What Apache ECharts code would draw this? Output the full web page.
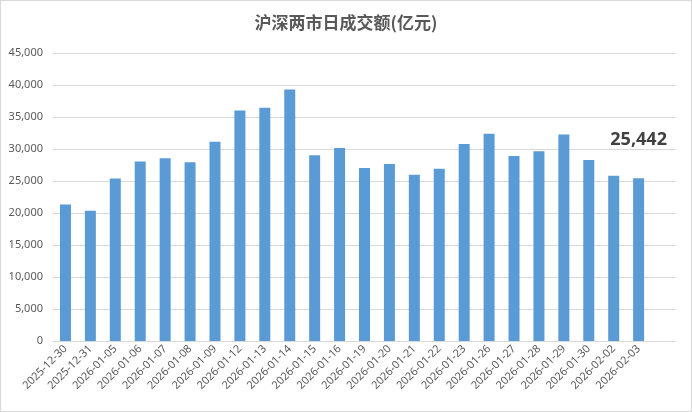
<!DOCTYPE html>
<html>
<head>
<meta charset="utf-8">
<script src="https://cdn.jsdelivr.net/npm/echarts@6/dist/echarts.min.js"></script>
<style>
html, body { margin: 0; padding: 0; background: #fff; }
#main { width: 692px; height: 412px; box-sizing: border-box; border: 1px solid #d9d9d9; }
</style>
</head>
<body>
<div id="main"></div>
<script>
var dates = ['2025-12-30', '2025-12-31', '2026-01-05', '2026-01-06', '2026-01-07', '2026-01-08',
    '2026-01-09', '2026-01-12', '2026-01-13', '2026-01-14', '2026-01-15', '2026-01-16',
    '2026-01-19', '2026-01-20', '2026-01-21', '2026-01-22', '2026-01-23', '2026-01-26',
    '2026-01-27', '2026-01-28', '2026-01-29', '2026-01-30', '2026-02-02', '2026-02-03'];
var turnover = [21320, 20340, 25400, 28030, 28560, 27940,
    31130, 36000, 36460, 39300, 29020, 30150,
    27050, 27670, 25970, 26900, 30780, 32380,
    28910, 29640, 32270, 28290, 25810, 25442];

// excel leaves one empty slot on the right
var axisData = dates.concat(['']);

var seriesData = [];
for (var i = 0; i < turnover.length; i++) {
    if (i == turnover.length - 1) {
        // only the latest day gets its big label
        seriesData.push({
            value: turnover[i],
            label: {
                show: true,
                position: 'top',
                distance: 29,
                fontSize: 18,
                fontWeight: 'bold',
                color: '#404040',
                fontFamily: 'Noto Sans',
                formatter: function (p) { return p.value.toLocaleString('en-US'); }
            }
        });
    } else {
        seriesData.push(turnover[i]);
    }
}

var option = {
    animation: false,
    title: {
        text: '沪深两市日成交额(亿元)',
        left: 'center',
        top: 8,
        textStyle: { fontFamily: 'Noto Sans CJK SC', fontSize: 17, fontWeight: 'bold', color: '#595959' }
    },
    grid: { left: 52, right: 15, top: 52, bottom: 70, containLabel: false },
    xAxis: {
        type: 'category',
        data: axisData,
        axisLine: { lineStyle: { color: '#d9d9d9' } },
        axisTick: { show: false },
        axisLabel: { rotate: 45, interval: 0, fontSize: 11, color: '#595959', fontFamily: 'Noto Sans', margin: 6 }
    },
    yAxis: {
        type: 'value',
        min: 0,
        max: 45000,
        interval: 5000,
        axisLine: { show: false },
        axisTick: { show: false },
        splitLine: { lineStyle: { color: '#d9d9d9' } },
        axisLabel: {
            fontSize: 11, color: '#595959', fontFamily: 'Noto Sans', margin: 10,
            formatter: function (v) { return v.toLocaleString('en-US'); }
        }
    },
    series: [{
        type: 'bar',
        data: seriesData,
        barWidth: 11,
        itemStyle: { color: '#5b9bd5' }
    }]
};

var myChart = echarts.init(document.getElementById('main'));
myChart.setOption(option);
</script>
</body>
</html>
